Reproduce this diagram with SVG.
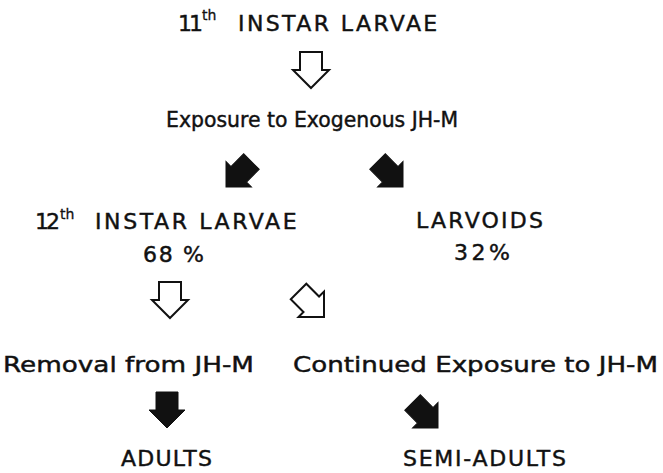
<svg xmlns="http://www.w3.org/2000/svg" xmlns:xlink="http://www.w3.org/1999/xlink" width="663" height="473" viewBox="0 0 663 473">
<style>
  .t { font-family: "DejaVu Sans", "Liberation Sans", sans-serif; font-size: 22px; fill: #111; stroke: #111; stroke-width: 0.45; }
  .sup { font-size: 14px; stroke-width: 0.3; }
  .open { fill: #fff; stroke: #111; stroke-width: 2; stroke-linejoin: miter; }
  .solid { fill: #111; stroke: #111; stroke-width: 1; }
</style>
<defs>
  <path id="arr" d="M0,0 L18,-18 L11,-18 L11,-36 L-11,-36 L-11,-18 L-18,-18 Z"/>
</defs>
<rect width="663" height="473" fill="#fff"/>

<g id="n-11th">
  <text class="t" x="178" y="31"><tspan letter-spacing="-3">11</tspan><tspan class="sup" x="202" dy="-11">th</tspan><tspan x="238" dy="11" letter-spacing="2.4">INSTAR LARVAE</tspan></text>
</g>
<g id="n-exposure">
  <text class="t" x="166" y="127" textLength="292" lengthAdjust="spacingAndGlyphs">Exposure to Exogenous JH-M</text>
</g>
<g id="n-12th">
  <text class="t" x="35" y="229"><tspan letter-spacing="-3">12</tspan><tspan class="sup" x="60" dy="-10">th</tspan><tspan x="95" dy="10" letter-spacing="2.6">INSTAR LARVAE</tspan></text>
  <text class="t" x="143" y="262" textLength="61" lengthAdjust="spacing">68 %</text>
</g>
<g id="n-larvoids">
  <text class="t" x="416" y="228" textLength="127" lengthAdjust="spacing">LARVOIDS</text>
  <text class="t" x="454" y="260" textLength="56" lengthAdjust="spacing">32%</text>
</g>
<g id="n-removal">
  <text class="t" x="3" y="372" textLength="251" lengthAdjust="spacingAndGlyphs">Removal from JH-M</text>
</g>
<g id="n-continued">
  <text class="t" x="293" y="372" textLength="365" lengthAdjust="spacingAndGlyphs">Continued Exposure to JH-M</text>
</g>
<g id="n-adults">
  <text class="t" x="121" y="466" textLength="91" lengthAdjust="spacing">ADULTS</text>
</g>
<g id="n-semi">
  <text class="t" x="403" y="466" textLength="163" lengthAdjust="spacing">SEMI-ADULTS</text>
</g>

<g id="connectors">
  <use xlink:href="#arr" class="open" transform="translate(311,88)"/>
  <use xlink:href="#arr" class="solid" transform="translate(226,187) rotate(45)"/>
  <use xlink:href="#arr" class="solid" transform="translate(403,187) rotate(-45)"/>
  <use xlink:href="#arr" class="open" transform="translate(170,318)"/>
  <use xlink:href="#arr" class="open" transform="translate(324,317) rotate(-45)"/>
  <use xlink:href="#arr" class="solid" transform="translate(167,428)"/>
  <use xlink:href="#arr" class="solid" transform="translate(438,428) rotate(-45)"/>
</g>
</svg>
